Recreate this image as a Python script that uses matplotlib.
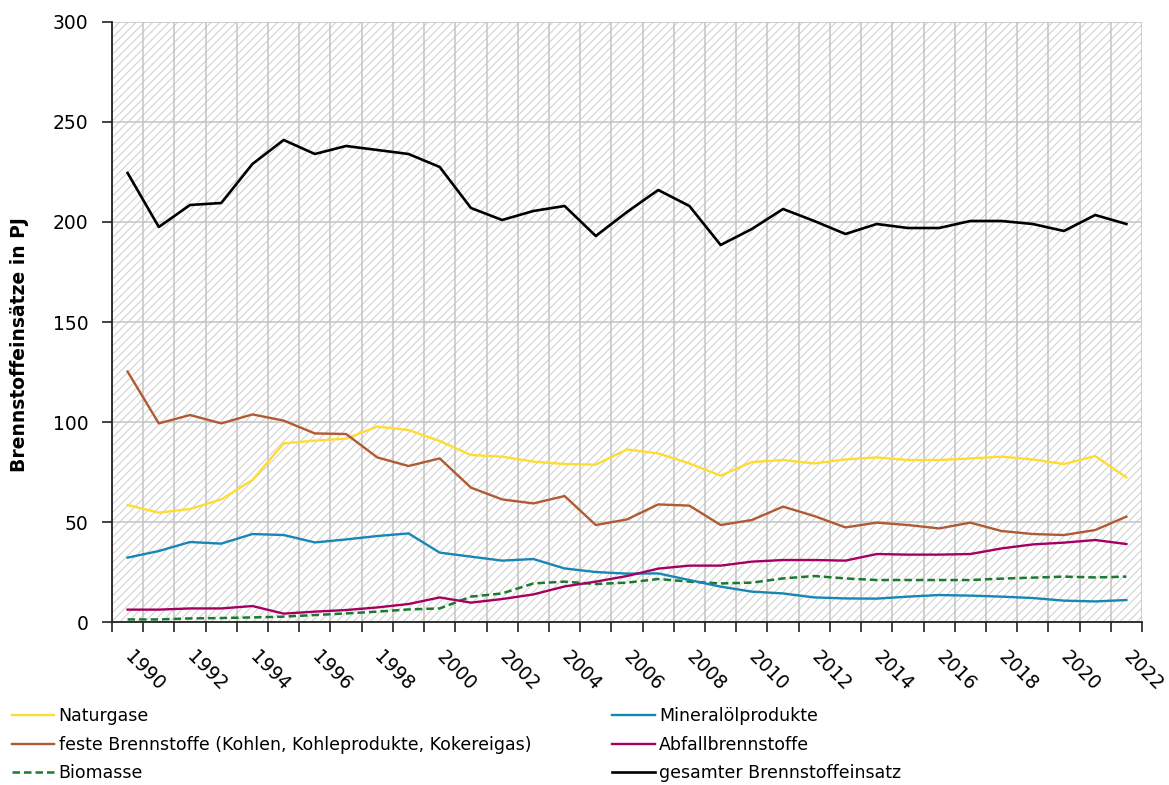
"""
Brennstoffeinsätze 1990-2022 nach Energieträgern, nachgebaut mit matplotlib.
"""

import numpy as np
import matplotlib
matplotlib.use("Agg")
import matplotlib.pyplot as plt
from matplotlib.lines import Line2D
from matplotlib.patches import Rectangle

plt.rcParams['font.family'] = ['DejaVu Sans']
plt.rcParams['hatch.linewidth'] = 0.8

years = list(range(1990, 2023))

naturgase = [58.5, 54.7, 56.5, 61.3, 71, 89.3, 90.7, 91.7, 97.7, 96, 90.5,
             83.5, 82.7, 80.2, 79, 78.7, 86.3, 84.3, 79.3, 73.2, 80, 81,
             79.3, 81.3, 82.3, 81, 81, 81.8, 82.7, 81.3, 79, 83, 72.3]
feste = [125.2, 99.3, 103.5, 99.3, 103.8, 100.7, 94.3, 94, 82.3, 78, 81.8,
         67.2, 61.3, 59.3, 63, 48.5, 51.3, 58.8, 58.2, 48.5, 51, 57.7,
         53, 47.3, 49.7, 48.5, 46.8, 49.7, 45.5, 44, 43.5, 46, 52.7]
biomasse = [1.3, 1.3, 1.8, 2, 2.3, 2.7, 3.5, 4.3, 5.2, 6.3, 6.8,
            12.7, 14.3, 19.3, 20.2, 19, 19.7, 21.5, 20.2, 19.3, 19.7, 21.8,
            23, 21.8, 21, 21, 21, 21, 21.7, 22.2, 22.7, 22.3, 22.7]
mineraloel = [32.2, 35.5, 40, 39.2, 44, 43.5, 39.8, 41.3, 43, 44.3, 34.7,
              32.7, 30.7, 31.5, 26.8, 25, 24.2, 24.3, 21, 17.7, 15.2, 14.3,
              12.3, 11.8, 11.7, 12.7, 13.5, 13.2, 12.7, 12, 10.7, 10.3, 11]
abfall = [6.2, 6.2, 6.8, 6.8, 8, 4.2, 5.2, 6, 7.3, 9, 12.3,
          9.7, 11.5, 13.8, 17.8, 20.2, 23, 26.7, 28.2, 28.2, 30.2, 31,
          31, 30.7, 34, 33.7, 33.7, 34, 36.8, 38.8, 39.7, 41, 39]
gesamt = [224.5, 197.5, 208.5, 209.5, 229, 241, 234, 238, 236, 234, 227.5,
          207, 201, 205.5, 208, 193, 205, 216, 208, 188.5, 196.5, 206.5,
          200.5, 194, 199, 197, 197, 200.5, 200.5, 199, 195.5, 203.5, 199]

labels_left = ["Naturgase",
               "feste Brennstoffe (Kohlen, Kohleprodukte, Kokereigas)",
               "Biomasse"]
labels_right = ["Mineralölprodukte", "Abfallbrennstoffe",
                "gesamter Brennstoffeinsatz"]

fig = plt.figure(figsize=(11.69, 7.85), dpi=100)
ax = fig.add_axes([0.0958, 0.2076, 0.8811, 0.7644])

x = np.arange(len(years))

# hatched background
ax.add_patch(Rectangle((0, 0), 1, 1, transform=ax.transAxes, fill=False,
                       hatch='////', edgecolor='#d2d2d2', linewidth=0, zorder=0))

series = [
    (naturgase, '#FFDC32', '-', 1.7),
    (feste, '#AF5A32', '-', 1.7),
    (biomasse, '#1C7A2E', (0, (3, 1.6)), 1.8),
    (mineraloel, '#1786B4', '-', 1.7),
    (abfall, '#A5005F', '-', 1.7),
    (gesamt, '#000000', '-', 1.9),
]
for values, color, ls, lw in series:
    ax.plot(x, values, color=color, linestyle=ls, linewidth=lw, zorder=3)

ax.set_xlim(-0.5, len(years) - 0.5)
ax.set_ylim(0, 300)
ax.set_yticks(np.arange(0, 301, 50))

# boundaries between categories carry the ticks and the vertical grid
ax.set_xticks(np.arange(-0.5, len(years), 1))
ax.set_xticklabels([])
ax.set_xticks(x[::2], minor=True)
ax.set_xticklabels([str(y) for y in years[::2]], minor=True)
ax.tick_params(axis='x', which='major', direction='out', length=7,
               width=1.2, color='#222222')
ax.tick_params(axis='x', which='minor', length=0, pad=23, labelsize=13.5)
for lbl in ax.get_xticklabels(minor=True):
    lbl.set_rotation(-45)
    lbl.set_rotation_mode('anchor')
    lbl.set_ha('left')
    lbl.set_va('center')
ax.tick_params(axis='y', direction='out', length=7, width=1.2,
               color='#222222', labelsize=13.5, pad=10)

ax.grid(True, which='major', color='#c4c4c4', linewidth=1.1, zorder=1)
ax.set_axisbelow(True)

for pos in ['top', 'right']:
    ax.spines[pos].set_visible(False)
for pos in ['left', 'bottom']:
    ax.spines[pos].set_color('#222222')
    ax.spines[pos].set_linewidth(1.3)

ax.set_ylabel("Brennstoffeinsätze in PJ", fontsize=13.5, fontweight='bold')
ax.yaxis.set_label_coords(-0.0806, 0.462)

# legend in two columns below the chart
handles = [Line2D([], [], color=c, linestyle=ls, linewidth=lw)
           for _, c, ls, lw in series]
leg_kw = dict(frameon=False, fontsize=12.5, handlelength=2.45,
              handletextpad=0.25, labelspacing=0.6, borderaxespad=0,
              borderpad=0)
fig.legend(handles[:3], labels_left, loc='upper left',
           bbox_to_anchor=(0.010, 0.099), **leg_kw)
fig.legend(handles[3:], labels_right, loc='upper left',
           bbox_to_anchor=(0.5235, 0.099), **leg_kw)

fig.savefig("out.png", dpi=100)
